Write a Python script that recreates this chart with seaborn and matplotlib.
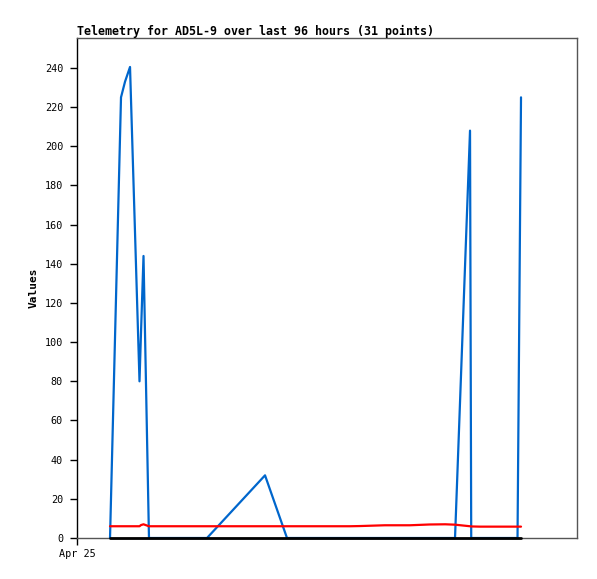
import pandas as pd
import matplotlib
matplotlib.use('Agg')
import matplotlib.pyplot as plt
import seaborn as sns


START = pd.Timestamp('2025-04-25 00:00')
WINDOW_HOURS = 96

# hours after START for each of the 31 telemetry points
hours = [6.34, 8.45, 9.22, 10.18, 12.0, 12.29, 12.77, 13.82, 15.9, 18.8, 21.7,
         24.96, 36.10, 40.32, 44.7, 49.5, 52.4, 54.3, 59.1, 62.0, 63.9, 67.7,
         70.7, 72.58, 75.46, 75.69, 77.4, 80.3, 83.1, 84.58, 85.25]
ch1 = [0, 225, 233, 240.5, 80, 105, 144, 0, 0, 0, 0,
       0, 32, 0, 0, 0, 0, 0, 0, 0, 0, 0,
       0, 0, 208, 0, 0, 0, 0, 0, 225]
ch2 = [6.0, 6.0, 6.0, 6.0, 6.0, 6.6, 7.0, 6.0, 6.0, 6.0, 6.0,
       6.0, 6.0, 6.0, 6.0, 6.0, 6.0, 6.1, 6.5, 6.5, 6.5, 6.9,
       7.0, 6.8, 6.0, 5.9, 5.8, 5.8, 5.8, 5.8, 5.8]
ch3 = [0] * 31

series_names = ['ch1', 'ch2', 'ch3']
series_colors = ['#0066cc', '#ff0000', '#000000']
y_ticks = list(range(0, 241, 20))
x_tick_labels = ['Apr 25']

times = START + pd.to_timedelta(hours, unit='h')
df = pd.DataFrame({'time': list(times) * 3,
                   'value': ch1 + ch2 + ch3,
                   'series': ['ch1'] * 31 + ['ch2'] * 31 + ['ch3'] * 31})

sns.set_style('white')
plt.rcParams['font.family'] = ['DejaVu Sans Mono', 'DejaVu Sans']
plt.rcParams['text.color'] = 'black'
plt.rcParams['axes.labelcolor'] = 'black'
plt.rcParams['xtick.color'] = 'black'
plt.rcParams['ytick.color'] = 'black'

fig = plt.figure(figsize=(5.97, 5.79), dpi=100)
ax = fig.add_axes([77 / 597, 1 - 538 / 579, 500 / 597, 500 / 579])

sns.lineplot(data=df, x='time', y='value', hue='series', hue_order=series_names,
             palette=series_colors, linewidth=1.6, legend=False, ax=ax,
             estimator=None, sort=False)
for line in ax.lines:
    line.set_clip_on(False)
    line.set_zorder(3)
ax.lines[-1].set_linewidth(2.0)

ax.set_xlim(START, START + pd.Timedelta(hours=WINDOW_HOURS))
ax.set_ylim(0, 255.3)
ax.set_xticks([START])
ax.set_xticklabels(x_tick_labels)
ax.set_yticks(y_ticks)
ax.tick_params(axis='both', direction='out', length=5, width=1, color='black',
               labelcolor='black', labelsize=7.3, pad=5, left=True, bottom=True)
ax.tick_params(axis='x', pad=3)

for side in ['top', 'right', 'bottom']:
    ax.spines[side].set_color('#555555')
    ax.spines[side].set_linewidth(1)
ax.spines['left'].set_color('black')
ax.spines['left'].set_linewidth(1)

ax.set_xlabel('')
ax.set_ylabel('Values', fontsize=8, fontweight='bold', labelpad=4)
ax.set_title('Telemetry for AD5L-9 over last 96 hours (31 points)', loc='left',
             fontsize=8.4, fontweight='bold', pad=2)

fig.savefig('out.png', dpi=100)
